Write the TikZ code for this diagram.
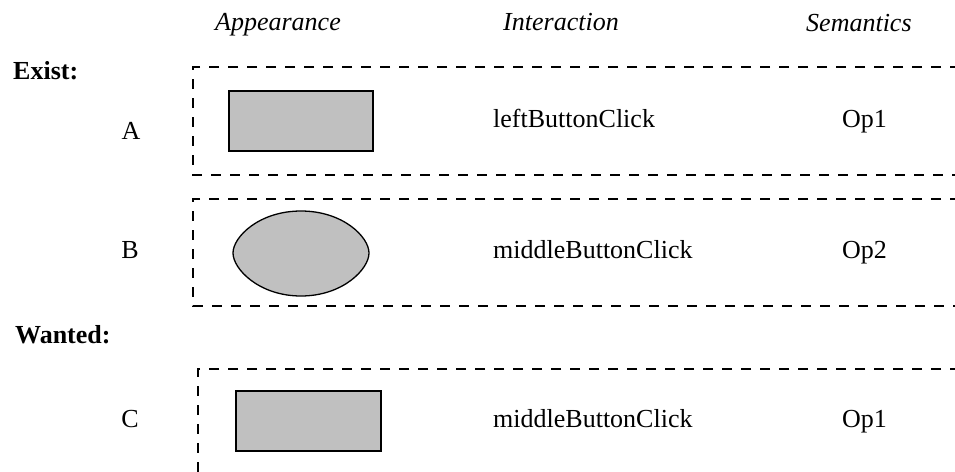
\documentclass[tikz,border=0pt]{standalone}
\usepackage{fontspec}
\setmainfont{Liberation Serif}
\begin{document}
\begin{tikzpicture}[x=1pt,y=-1pt,
  txt/.style={anchor=base west,inner sep=0pt,font=\fontsize{26}{30}\selectfont},
  ctxt/.style={anchor=base,inner sep=0pt,font=\fontsize{26}{30}\selectfont},
  hdr/.style={txt,font=\fontsize{26}{30}\selectfont\itshape},
  ttl/.style={txt,font=\fontsize{26}{30}\selectfont\bfseries},
  grp/.style={draw=black,line width=1.2pt,dash pattern=on 10pt off 9pt},
  shp/.style={draw=black,line width=1.3pt,fill=shapegray}]
\definecolor{shapegray}{HTML}{C0C0C0}
\useasboundingbox (0,0) rectangle (955,471);
% headers
\node[hdr] (happ) at (215,30) {Appearance};
\node[hdr] (hint) at (503,30) {Interaction};
\node[hdr] (hsem) at (806,31) {Semantics};
\node[ttl] (exist) at (13,79) {Exist:};
\node[ttl] (wanted) at (15,343) {Wanted:};
% group boxes (open to the right)
\draw[grp] (960,67) -- (193,67) -- (193,175) -- (960,175);
\draw[grp] (960,199) -- (193,199) -- (193,306) -- (960,306);
\draw[grp] (960,369) -- (198,369) -- (198,480);
% row labels
\node[ctxt] (la) at (131,139) {A};
\node[ctxt] (lb) at (130,258) {B};
\node[ctxt] (lc) at (130,427) {C};
% shapes
\draw[shp] (229,91) rectangle (373,151);
\draw[shp] (233,253) .. controls (233,237) and (259,211) .. (301,211)
  .. controls (343,211) and (369,237) .. (369,253)
  .. controls (369,269) and (343,296) .. (301,296)
  .. controls (259,296) and (233,269) .. (233,253) -- cycle;
\draw[shp] (236,391) rectangle (381,451);
% interactions
\node[txt] (ia) at (493,127) {leftButtonClick};
\node[txt] (ib) at (493,258) {middleButtonClick};
\node[txt] (ic) at (493,427) {middleButtonClick};
% semantics
\node[txt] (sa) at (842,127) {Op1};
\node[txt] (sb) at (842,258) {Op2};
\node[txt] (sc) at (842,427) {Op1};
\end{tikzpicture}
\end{document}
